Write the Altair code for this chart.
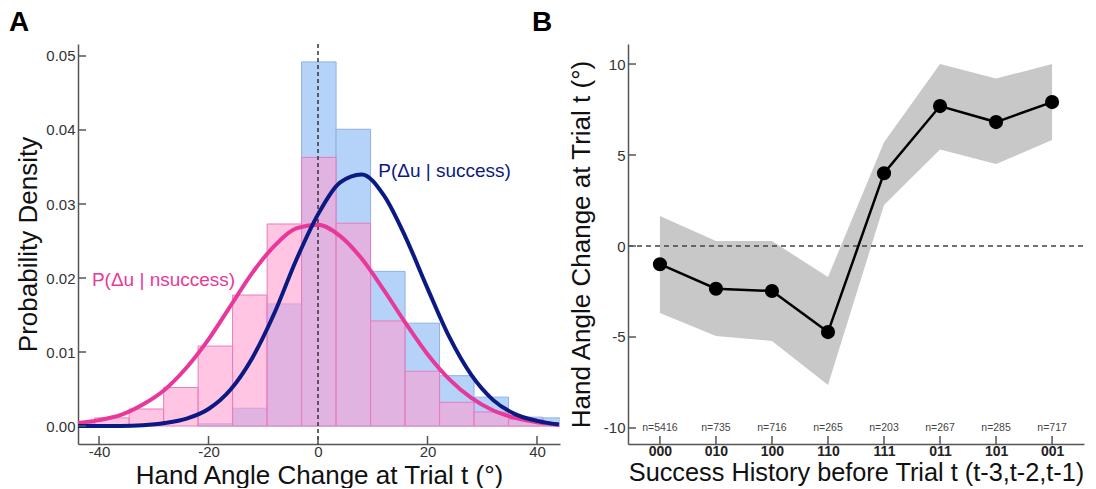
import altair as alt
import pandas as pd

FONT = "Liberation Sans"

# ---------------- Panel A data ----------------
bin_edges = [-47.1, -40.8, -34.5, -28.2, -21.9, -15.6, -9.3, -3.0, 3.3, 9.6,
             15.9, 22.2, 28.5, 34.8, 41.1, 47.4]
dens_success = [0, 0, 0, 0, 0.0003, 0.0024, 0.0165, 0.0492, 0.0401, 0.0209,
                0.0139, 0.0068, 0.0039, 0.0012, 0.0011]
dens_nsuccess = [0.0004, 0.0011, 0.0023, 0.0052, 0.0108, 0.0177, 0.0273, 0.0363,
                 0.0274, 0.0142, 0.0074, 0.0032, 0.0019, 0.0009, 0.0003]

curve_x = [-44, -40, -36, -32, -28, -24, -20, -16, -12, -8, -4, 0, 4, 8, 12,
           16, 20, 24, 28, 32, 36, 40, 44]
fit_success = [0.0000, 0.0000, 0.0000, 0.0001, 0.0004, 0.0010, 0.0023, 0.0049,
               0.0092, 0.0152, 0.0224, 0.0286, 0.0329, 0.0340, 0.0312, 0.0255,
               0.0186, 0.0120, 0.0069, 0.0035, 0.0016, 0.0007, 0.0002]
fit_nsuccess = [0.0004, 0.0008, 0.0015, 0.0029, 0.0049, 0.0079, 0.0117, 0.0162,
                0.0207, 0.0243, 0.0267, 0.0272, 0.0257, 0.0226, 0.0184, 0.0139,
                0.0097, 0.0063, 0.0038, 0.0021, 0.0011, 0.0005, 0.0002]

label_text_a = ["P(\u0394u | success)", "P(\u0394u | nsuccess)"]
label_x_a = [11.0, -41.3]
label_y_a = [0.0336, 0.0189]
label_color_a = ["#0b1a82", "#e8399a"]

xticks_a = [-40, -20, 0, 20, 40]
yticks_a = [0.0, 0.01, 0.02, 0.03, 0.04, 0.05]

# ---------------- Panel B data ----------------
history = ["000", "010", "100", "110", "111", "011", "101", "001"]
mean_change = [-1.0, -2.35, -2.47, -4.73, 4.0, 7.69, 6.81, 7.91]
ci_upper = [1.65, 0.27, 0.27, -1.7, 5.7, 10.0, 9.2, 10.0]
ci_lower = [-3.68, -4.95, -5.22, -7.64, 2.25, 5.3, 4.5, 5.82]
n_trials = ["n=5416", "n=735", "n=716", "n=265", "n=203", "n=267", "n=285", "n=717"]
yticks_b = [-10, -5, 0, 5, 10]

# ---------------- Build tables ----------------
hist_s = pd.DataFrame({"x0": bin_edges[:-1], "x1": bin_edges[1:], "d": dens_success})
hist_s = hist_s[hist_s.d > 0]
hist_n = pd.DataFrame({"x0": bin_edges[:-1], "x1": bin_edges[1:], "d": dens_nsuccess})
hist_n = hist_n[hist_n.d > 0]
curves = pd.DataFrame({"x": curve_x, "s": fit_success, "n": fit_nsuccess})
labels_a = pd.DataFrame({"t": label_text_a, "x": label_x_a, "y": label_y_a, "c": label_color_a})

W_A, H = 482, 400
xs_a = alt.Scale(domain=[-43.84, 44.2], nice=False, zero=False)
ys_a = alt.Scale(domain=[-0.00243, 0.05162], nice=False, zero=False)

AX_COL = "#555555"

x_axis_a = alt.Axis(values=xticks_a, ticks=False, grid=False, labelExpr="'' + datum.value",
                    title="Hand Angle Change at Trial t (\u00b0)", labelPadding=0,
                    titlePadding=3)
y_axis_a = alt.Axis(values=yticks_a, ticks=False, grid=False, format=".2f",
                    title="Probability Density", labelPadding=3, titlePadding=4)

bars_s = alt.Chart(hist_s).mark_rect(
    fill="#b5d3f8", stroke="#8fb0e8", strokeWidth=1, clip=True
).encode(
    x=alt.X("x0:Q", scale=xs_a, axis=x_axis_a),
    x2="x1:Q",
    y=alt.Y("d:Q", scale=ys_a, axis=y_axis_a),
    y2=alt.datum(0),
)
bars_n = alt.Chart(hist_n).mark_rect(
    fill="#ff9fd0", fillOpacity=0.6, stroke="#e87cc0", strokeWidth=1, clip=True
).encode(
    x=alt.X("x0:Q", scale=xs_a),
    x2="x1:Q",
    y=alt.Y("d:Q", scale=ys_a),
    y2=alt.datum(0),
)
zero_a = alt.Chart(pd.DataFrame({"x": [0]})).mark_rule(
    color="#333333", strokeDash=[4, 3], strokeWidth=1.5
).encode(x=alt.X("x:Q", scale=xs_a), y=alt.value(0), y2=alt.value(H))

line_n = alt.Chart(curves).mark_line(
    color="#e8399a", strokeWidth=4, interpolate="monotone", clip=True
).encode(x=alt.X("x:Q", scale=xs_a), y=alt.Y("n:Q", scale=ys_a))
line_s = alt.Chart(curves).mark_line(
    color="#0b1a82", strokeWidth=4, interpolate="monotone", clip=True
).encode(x=alt.X("x:Q", scale=xs_a), y=alt.Y("s:Q", scale=ys_a))

text_a = alt.Chart(labels_a).mark_text(
    align="left", baseline="alphabetic", font=FONT, fontSize=19
).encode(
    x=alt.X("x:Q", scale=xs_a), y=alt.Y("y:Q", scale=ys_a),
    text="t:N", color=alt.Color("c:N", scale=None),
)

ytick_a = alt.Chart(pd.DataFrame({"v": yticks_a})).mark_rule(
    color=AX_COL, strokeWidth=1.5
).encode(y=alt.Y("v:Q", scale=ys_a), x=alt.value(0), x2=alt.value(8))
xtick_a = alt.Chart(pd.DataFrame({"v": xticks_a})).mark_rule(
    color=AX_COL, strokeWidth=1.5
).encode(x=alt.X("v:Q", scale=xs_a), y=alt.value(H - 8), y2=alt.value(H))

panel_letters = pd.DataFrame({"t": ["A", "B"], "px": [-59, 464]})
letters = alt.Chart(panel_letters).mark_text(
    font=FONT, fontSize=28, fontWeight="bold", align="center",
    baseline="alphabetic", color="#000000"
).encode(x=alt.X("px:Q", scale=None), y=alt.value(-13), text="t:N")

panel_a = alt.layer(
    bars_s, bars_n, zero_a, line_n, line_s, text_a, ytick_a, xtick_a, letters
).properties(width=W_A, height=H)

# ---------------- Panel B ----------------
df_b = pd.DataFrame({"h": history, "m": mean_change, "lo": ci_lower,
                     "hi": ci_upper, "n": n_trials})
W_B = 456
xs_b = alt.Scale(type="point", domain=history, padding=0.57)
ys_b = alt.Scale(domain=[-10.88, 11.1], nice=False, zero=False)

x_axis_b = alt.Axis(ticks=False, grid=False, labelAngle=0, labelFontWeight="bold",
                    labelFontSize=14, labelColor="#222222", labelPadding=0,
                    title="Success History before Trial t (t-3,t-2,t-1)",
                    titleFontSize=25.3, titlePadding=2)
y_axis_b = alt.Axis(values=yticks_b, ticks=False, grid=False,
                    labelExpr="'' + datum.value",
                    title="Hand Angle Change at Trial t (\u00b0)",
                    labelPadding=3, titlePadding=9)

band = alt.Chart(df_b).mark_area(color="#c8c8c8", opacity=1).encode(
    x=alt.X("h:N", scale=xs_b, axis=x_axis_b, sort=history),
    y=alt.Y("lo:Q", scale=ys_b, axis=y_axis_b),
    y2="hi:Q",
)
zero_b = alt.Chart(pd.DataFrame({"v": [0]})).mark_rule(
    color="#444444", strokeDash=[5, 4], strokeWidth=1.3
).encode(y=alt.Y("v:Q", scale=ys_b), x=alt.value(0), x2=alt.value(W_B))
line_b = alt.Chart(df_b).mark_line(color="#000000", strokeWidth=2.5).encode(
    x=alt.X("h:N", scale=xs_b, sort=history), y=alt.Y("m:Q", scale=ys_b))
pts_b = alt.Chart(df_b).mark_point(
    filled=True, color="#000000", size=200, opacity=1
).encode(x=alt.X("h:N", scale=xs_b, sort=history), y=alt.Y("m:Q", scale=ys_b))
n_b = alt.Chart(df_b).mark_text(
    font=FONT, fontSize=10.5, color="#444444", baseline="middle"
).encode(x=alt.X("h:N", scale=xs_b, sort=history), y=alt.datum(-10), text="n:N")

ytick_b = alt.Chart(pd.DataFrame({"v": yticks_b})).mark_rule(
    color=AX_COL, strokeWidth=1.5
).encode(y=alt.Y("v:Q", scale=ys_b), x=alt.value(0), x2=alt.value(8))
xtick_b = alt.Chart(df_b).mark_rule(color=AX_COL, strokeWidth=1.5).encode(
    x=alt.X("h:N", scale=xs_b, sort=history), y=alt.value(H - 8), y2=alt.value(H))

panel_b = alt.layer(band, zero_b, line_b, pts_b, n_b, ytick_b, xtick_b).properties(
    width=W_B, height=H)

chart = alt.hconcat(panel_a, panel_b, spacing=8).properties(
    padding={"left": 8, "top": 9, "right": 5, "bottom": 0}
).configure_view(stroke=None).configure_axis(
    labelFont=FONT, titleFont=FONT, labelFontSize=15, labelColor="#333333",
    titleFontSize=26, titleFontWeight="normal", titleColor="#111111",
    domainColor=AX_COL, domainWidth=1.5
)

chart.save("out.html", embed_options={"renderer": "svg", "actions": False})
